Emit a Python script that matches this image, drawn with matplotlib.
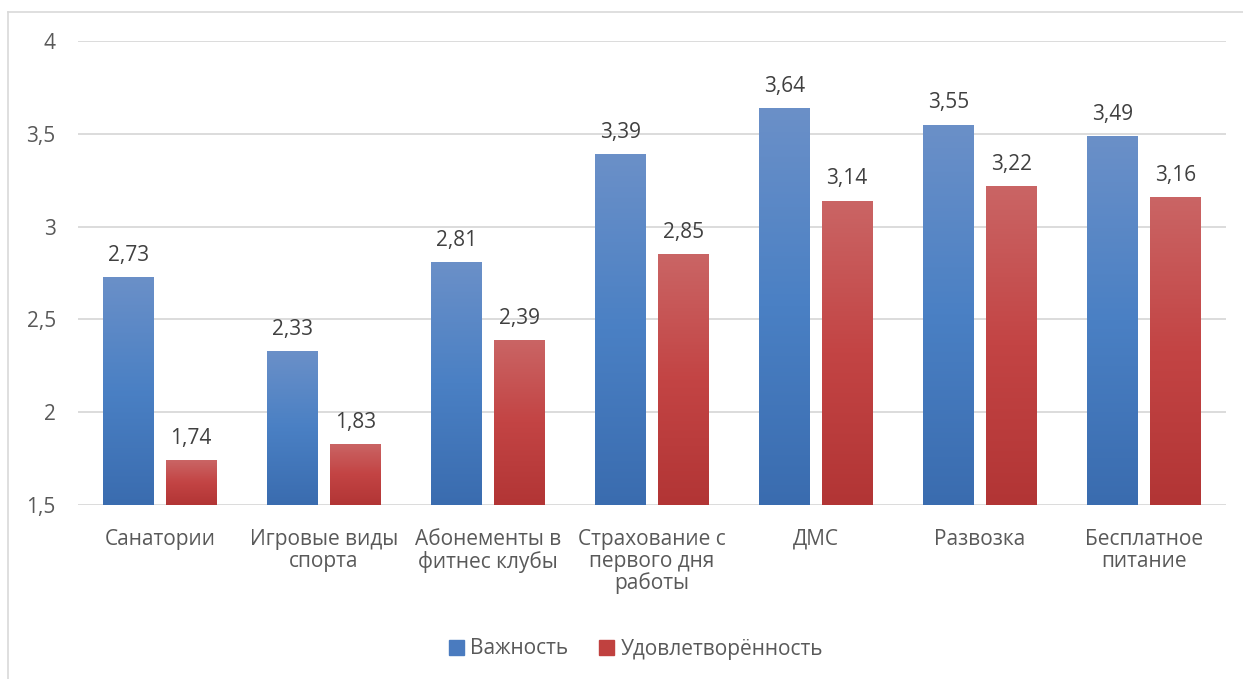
import matplotlib
matplotlib.use("Agg")
import matplotlib.pyplot as plt
import numpy as np
from matplotlib.colors import LinearSegmentedColormap
from matplotlib.patches import Rectangle
import matplotlib.patheffects as pe

categories = ["Санатории", "Игровые виды\nспорта", "Абонементы в\nфитнес клубы",
              "Страхование с\nпервого дня\nработы", "ДМС", "Развозка",
              "Бесплатное\nпитание"]
importance = [2.73, 2.33, 2.81, 3.39, 3.64, 3.55, 3.49]
satisfaction = [1.74, 1.83, 2.39, 2.85, 3.14, 3.22, 3.16]
series_names = ["Важность", "Удовлетворённость"]
yticks = [1.5, 2, 2.5, 3, 3.5, 4]

plt.rcParams["font.family"] = ["Open Sans", "DejaVu Sans"]
TEXT = "#595959"
FS = 15

blue_cmap = LinearSegmentedColormap.from_list("b", ["#3a6caf", "#4a80c4", "#6b90c8"])
red_cmap = LinearSegmentedColormap.from_list("r", ["#b23535", "#c34444", "#ca6565"])

fig = plt.figure(figsize=(12.43, 6.79), dpi=100)
ax = fig.add_axes([78 / 1243, 1 - 505 / 679, (1226 - 78) / 1243, (505 - 41) / 679])

# chart-area frame (only top and left edges fall inside the canvas)
fig.add_artist(plt.Line2D([8 / 1243, 1], [1 - 12 / 679, 1 - 12 / 679],
                          transform=fig.transFigure, color="#d9d9d9", lw=1.2))
fig.add_artist(plt.Line2D([8 / 1243, 8 / 1243], [0, 1 - 12 / 679],
                          transform=fig.transFigure, color="#d9d9d9", lw=1.2))

ymin, ymax = 1.5, 4.0
ax.set_xlim(-0.5, len(categories) - 0.5)
ax.set_ylim(ymin, ymax)
for y in yticks:
    ax.axhline(y, color="#d9d9d9", lw=1.3, zorder=0)

width = 0.31
offset = 0.19
grad = np.linspace(0, 1, 256).reshape(-1, 1)


def gradient_bar(x, h, cmap):
    left = x - width / 2
    shadow = Rectangle((left, ymin), width, h - ymin, facecolor="none", edgecolor="none",
                       zorder=2,
                       path_effects=[pe.SimplePatchShadow(offset=(0, 0), shadow_rgbFace="#000000",
                                                          alpha=0.12)])
    ax.add_patch(shadow)
    rect = Rectangle((left, ymin), width, h - ymin, facecolor="none", edgecolor="none", zorder=3)
    ax.add_patch(rect)
    im = ax.imshow(grad, cmap=cmap, extent=(left, left + width, ymin, h), origin="lower",
                   aspect="auto", zorder=3)
    im.set_clip_path(rect)


for i, (a, b) in enumerate(zip(importance, satisfaction)):
    gradient_bar(i - offset, a, blue_cmap)
    gradient_bar(i + offset, b, red_cmap)
    ax.text(i - offset, a + 0.06, f"{a:.2f}".replace(".", ","), ha="center", va="bottom",
            fontsize=FS, color="#404040")
    ax.text(i + offset, b + 0.06, f"{b:.2f}".replace(".", ","), ha="center", va="bottom",
            fontsize=FS, color="#404040")

ax.set_xlim(-0.5, len(categories) - 0.5)
ax.set_ylim(ymin, ymax)
ax.set_xticks(range(len(categories)))
ax.set_xticklabels(categories, fontsize=FS, color=TEXT, linespacing=1.06)
ax.set_yticks(yticks)
ax.set_yticklabels([f"{t:g}".replace(".", ",") for t in yticks], fontsize=FS, color=TEXT)
ax.tick_params(length=0)
ax.tick_params(axis="x", pad=17)
ax.tick_params(axis="y", pad=16)
for s in ax.spines.values():
    s.set_visible(False)

handles = [Rectangle((0, 0), 1, 1, color="#4a7bbf"), Rectangle((0, 0), 1, 1, color="#c0413f")]
leg = fig.legend(handles, series_names, loc="center", bbox_to_anchor=(636 / 1243, 1 - 649 / 679),
                 ncol=2, frameon=False, fontsize=FS, handlelength=0.7, handleheight=0.7,
                 handletextpad=0.3, columnspacing=1.5)
for t in leg.get_texts():
    t.set_color(TEXT)

fig.savefig("out.png", dpi=100)
